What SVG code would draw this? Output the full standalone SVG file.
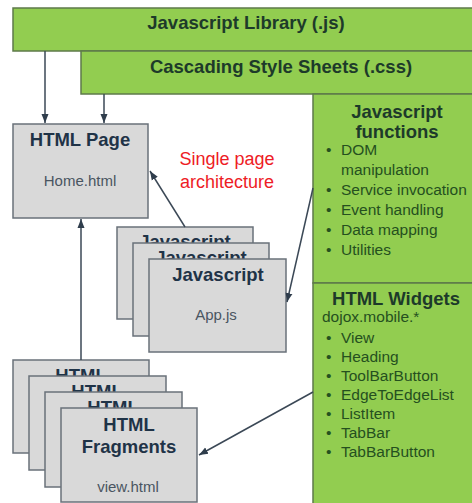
<svg xmlns="http://www.w3.org/2000/svg" width="472" height="503" viewBox="0 0 472 503">
<style>
.bar{fill:#92cd50;stroke:#5e7a4a;stroke-width:1.5}
.box{fill:#d9d9d9;stroke:#69717a;stroke-width:1.5}
.h{font-family:"Liberation Sans",Arial,sans-serif;font-weight:bold;font-size:18.5px;fill:#1f3347;text-anchor:middle}
.gh{font-family:"Liberation Sans",Arial,sans-serif;font-weight:bold;font-size:18.5px;fill:#1d3a2a;text-anchor:middle}
.sub{font-family:"Liberation Sans",Arial,sans-serif;font-size:15px;fill:#4a5561;text-anchor:middle}
.li{font-family:"Liberation Sans",Arial,sans-serif;font-size:15.5px;fill:#25501f}
.red{font-family:"Liberation Sans",Arial,sans-serif;font-size:18px;fill:#ee1c25;text-anchor:middle}
.c{fill:none;stroke:#3b4856;stroke-width:1.5}
</style>
<defs>
<marker id="ah" markerWidth="10" markerHeight="10" refX="9" refY="5" orient="auto" markerUnits="userSpaceOnUse">
<path d="M0,1.5 L9,5 L0,8.5 Z" fill="#2f3d4c"/>
</marker>
<clipPath id="cj1"><rect x="117" y="227" width="136" height="16"/></clipPath>
<clipPath id="cj2"><rect x="133" y="243" width="136" height="16"/></clipPath>
<clipPath id="ch1"><rect x="13" y="360" width="136" height="16"/></clipPath>
<clipPath id="ch2"><rect x="29" y="376" width="137" height="16"/></clipPath>
<clipPath id="ch3"><rect x="45" y="392" width="137" height="16"/></clipPath>
</defs>
<rect width="472" height="503" fill="#ffffff"/>
<g id="js-library">
<rect class="bar" x="13" y="8" width="470" height="43"/>
<text class="gh" x="246" y="29">Javascript Library (.js)</text>
</g>
<g id="css">
<rect class="bar" x="81" y="51" width="402" height="43"/>
<text class="gh" x="281" y="73">Cascading Style Sheets (.css)</text>
</g>
<g id="js-functions">
<rect class="bar" x="313" y="94" width="170" height="189"/>
<text class="gh" x="397" y="118">Javascript</text>
<text class="gh" x="397" y="138">functions</text>
<g class="li">
<text x="326" y="155">•</text><text x="341" y="155">DOM</text>
<text x="341" y="175">manipulation</text>
<text x="326" y="195">•</text><text x="341" y="195">Service invocation</text>
<text x="326" y="215">•</text><text x="341" y="215">Event handling</text>
<text x="326" y="235">•</text><text x="341" y="235">Data mapping</text>
<text x="326" y="255">•</text><text x="341" y="255">Utilities</text>
</g>
</g>
<g id="html-widgets">
<rect class="bar" x="313" y="283" width="170" height="222"/>
<text class="gh" x="396" y="305">HTML Widgets</text>
<g class="li">
<text x="322" y="322">dojox.mobile.*</text>
<text x="326" y="343">•</text><text x="341" y="343">View</text>
<text x="326" y="362">•</text><text x="341" y="362">Heading</text>
<text x="326" y="381">•</text><text x="341" y="381">ToolBarButton</text>
<text x="326" y="400">•</text><text x="341" y="400">EdgeToEdgeList</text>
<text x="326" y="419">•</text><text x="341" y="419">ListItem</text>
<text x="326" y="438">•</text><text x="341" y="438">TabBar</text>
<text x="326" y="457">•</text><text x="341" y="457">TabBarButton</text>
</g>
</g>
<g id="html-page">
<rect class="box" x="13" y="124" width="135" height="94"/>
<text class="h" x="80" y="146">HTML Page</text>
<text class="sub" x="80" y="186">Home.html</text>
</g>
<g id="spa-label">
<text class="red" x="227" y="165">Single page</text>
<text class="red" x="227" y="188">architecture</text>
</g>
<g id="javascript-app">
<rect class="box" x="117" y="227" width="136" height="92"/>
<text class="h" x="185" y="248" clip-path="url(#cj1)">Javascript</text>
<rect class="box" x="133" y="243" width="136" height="93"/>
<text class="h" x="201" y="264" clip-path="url(#cj2)">Javascript</text>
<rect class="box" x="149" y="259" width="137" height="93"/>
<text class="h" x="218" y="281">Javascript</text>
<text class="sub" x="216" y="320">App.js</text>
</g>
<g id="html-fragments">
<rect class="box" x="13" y="360" width="136" height="93"/>
<text class="h" x="81" y="382" clip-path="url(#ch1)">HTML</text>
<rect class="box" x="29" y="376" width="137" height="94"/>
<text class="h" x="97" y="398" clip-path="url(#ch2)">HTML</text>
<rect class="box" x="45" y="392" width="137" height="95"/>
<text class="h" x="113" y="414" clip-path="url(#ch3)">HTML</text>
<rect class="box" x="61" y="408" width="136" height="94"/>
<text class="h" x="129" y="431">HTML</text>
<text class="h" x="129" y="453">Fragments</text>
<text class="sub" x="128" y="492">view.html</text>
</g>
<g id="connectors">
<line class="c" x1="45" y1="51" x2="45" y2="123" marker-end="url(#ah)"/>
<line class="c" x1="104" y1="94" x2="104" y2="123" marker-end="url(#ah)"/>
<line class="c" x1="185" y1="227" x2="150" y2="171" marker-end="url(#ah)"/>
<line class="c" x1="81" y1="360" x2="81" y2="219" marker-end="url(#ah)"/>
<line class="c" x1="313" y1="188" x2="287" y2="302" marker-end="url(#ah)"/>
<line class="c" x1="313" y1="392" x2="199" y2="455" marker-end="url(#ah)"/>
</g>
</svg>
